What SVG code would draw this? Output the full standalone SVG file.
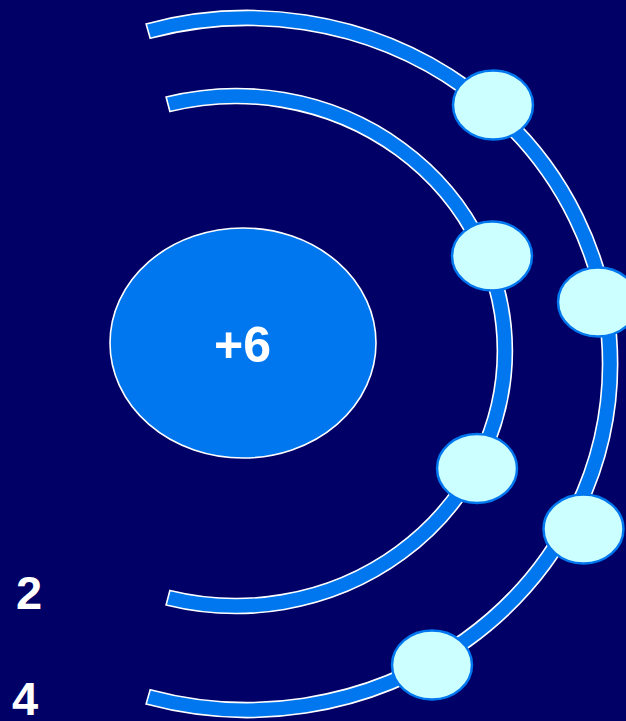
<svg xmlns="http://www.w3.org/2000/svg" width="626" height="721" viewBox="0 0 626 721">
  <style>
    .shell { fill: #0077EE; stroke: #FFFFFF; stroke-width: 1.6; }
    .electron { fill: #CCFFFF; stroke: #0077EE; stroke-width: 2.5; }
    .nucleus { fill: #0077EE; stroke: #FFFFFF; stroke-width: 1.6; }
    .label { font-family: "Liberation Sans", Arial, sans-serif; font-weight: bold; fill: #FFFFFF; }
  </style>
  <rect x="0" y="0" width="626" height="721" fill="#000066"/>
  <g id="connectors"></g>
  <g id="shell-outer">
    <path class="shell" d="M 146.1 23.9 A 370.5 353.5 0 1 1 146.1 704.1 L 150.2 689.7 A 355.5 338.5 0 1 0 150.2 38.3 Z"/>
  </g>
  <g id="shell-inner">
    <path class="shell" d="M 166.1 97 A 276.5 262.5 0 1 1 166.1 605 L 169.9 590.5 A 261.5 247.5 0 1 0 169.9 111.5 Z"/>
  </g>
  <g id="nucleus">
    <ellipse class="nucleus" cx="243" cy="343" rx="133" ry="115"/>
    <text class="label" x="242.5" y="362" font-size="50" text-anchor="middle">+6</text>
  </g>
  <g id="electron-1"><ellipse class="electron" cx="493" cy="105" rx="40" ry="34.5"/></g>
  <g id="electron-2"><ellipse class="electron" cx="492" cy="256" rx="40" ry="34.5"/></g>
  <g id="electron-3"><ellipse class="electron" cx="598" cy="302" rx="40" ry="34.5"/></g>
  <g id="electron-4"><ellipse class="electron" cx="477" cy="468.5" rx="40" ry="34.5"/></g>
  <g id="electron-5"><ellipse class="electron" cx="583.5" cy="529" rx="40" ry="34.5"/></g>
  <g id="electron-6"><ellipse class="electron" cx="432" cy="665" rx="40" ry="34.5"/></g>
  <g id="label-2"><text class="label" x="16" y="609" font-size="47">2</text></g>
  <g id="label-4"><text class="label" x="12" y="715" font-size="47">4</text></g>
</svg>
